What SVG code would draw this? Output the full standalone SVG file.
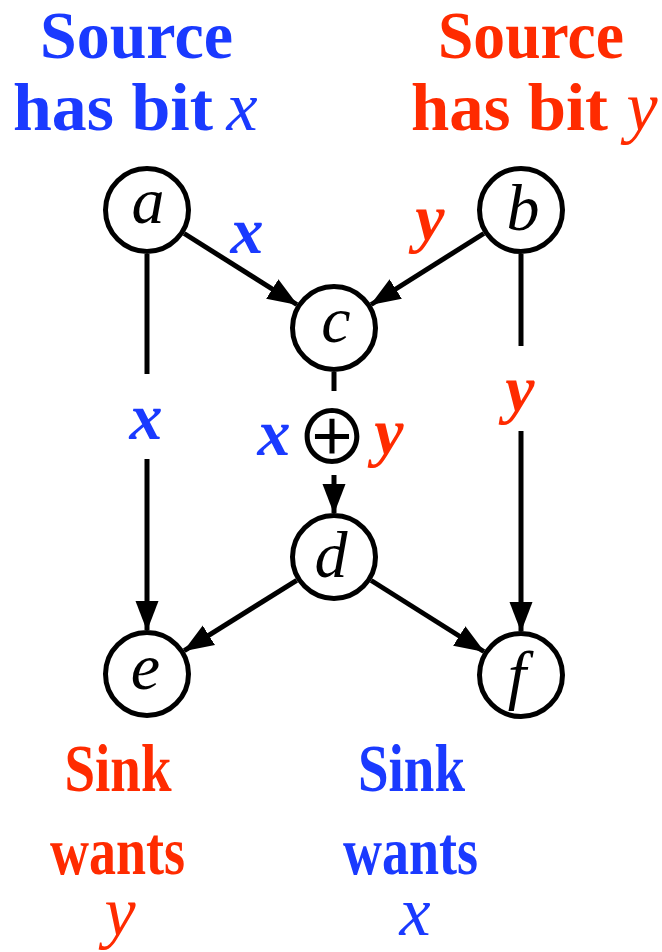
<svg xmlns="http://www.w3.org/2000/svg" width="662" height="952" viewBox="0 0 662 952">
<style>
.bg{fill:#ffffff}
.node{fill:#ffffff;stroke:#000000;stroke-width:5}
.edge{fill:none;stroke:#000000;stroke-width:5}
.nl{font-family:"Liberation Serif",serif;font-style:italic;font-size:66px;fill:#000000;text-anchor:middle}
.el{font-family:"Liberation Serif",serif;font-style:italic;font-weight:bold;font-size:66px;text-anchor:middle}
.big{font-family:"Liberation Serif",serif;font-weight:bold;font-size:68px;text-anchor:middle}
.var{font-family:"Liberation Serif",serif;font-style:italic;font-size:70px;text-anchor:middle}
.blue{fill:#1a3aff}
.red{fill:#ff2b00}
</style>
<defs>
<marker id="arr" markerUnits="userSpaceOnUse" markerWidth="32" markerHeight="26" viewBox="0 -13 32 26" refX="29" refY="0" orient="auto">
<path d="M0,-11.5 L30,0 L0,11.5 z" fill="#000000"/>
</marker>
</defs>
<rect class="bg" x="0" y="0" width="662" height="952"/>
<g id="labels-top">
<text class="big blue" x="136.5" y="58" textLength="193" lengthAdjust="spacingAndGlyphs">Source</text>
<text class="big blue" x="113" y="130" textLength="200" lengthAdjust="spacingAndGlyphs">has bit</text>
<text class="var blue" x="242" y="130">x</text>
<text class="big red" x="531" y="58" textLength="186" lengthAdjust="spacingAndGlyphs">Source</text>
<text class="big red" x="509.5" y="130" textLength="197" lengthAdjust="spacingAndGlyphs">has bit</text>
<text class="var red" x="642" y="130">y</text>
</g>
<g id="connectors">
<line class="edge" x1="184.2" y1="233.5" x2="296.8" y2="304.5" marker-end="url(#arr)"/>
<line class="edge" x1="483.8" y1="233.5" x2="371.2" y2="304.5" marker-end="url(#arr)"/>
<line class="edge" x1="147" y1="254" x2="147" y2="374"/>
<line class="edge" x1="147" y1="459" x2="147" y2="630" marker-end="url(#arr)"/>
<line class="edge" x1="521" y1="254" x2="521" y2="346"/>
<line class="edge" x1="521" y1="431" x2="521" y2="631" marker-end="url(#arr)"/>
<line class="edge" x1="334" y1="372" x2="334" y2="391"/>
<line class="edge" x1="334" y1="475" x2="334" y2="513" marker-end="url(#arr)"/>
<line class="edge" x1="296.7" y1="580.3" x2="184.3" y2="650.7" marker-end="url(#arr)"/>
<line class="edge" x1="371.2" y1="580.5" x2="483.8" y2="651.5" marker-end="url(#arr)"/>
<text class="el blue" x="274" y="455">x</text>
<text x="332" y="464" font-family="Noto Sans CJK SC, DejaVu Sans, sans-serif" font-size="74" text-anchor="middle" fill="#000000">⊕</text>
<text class="el red" x="389" y="454">y</text>
<text class="el blue" x="247" y="253">x</text>
<text class="el red" x="430" y="240">y</text>
<text class="el blue" x="146" y="439">x</text>
<text class="el red" x="520" y="411">y</text>
</g>
<g id="node-a"><circle class="node" cx="147" cy="210" r="41.5"/><text class="nl" x="148" y="223">a</text></g>
<g id="node-b"><circle class="node" cx="521" cy="210" r="41.5"/><text class="nl" x="523" y="230">b</text></g>
<g id="node-c"><circle class="node" cx="334" cy="328" r="41.5"/><text class="nl" x="336" y="342">c</text></g>
<g id="node-d"><circle class="node" cx="334" cy="557" r="41.5"/><text class="nl" x="331" y="577">d</text></g>
<g id="node-e"><circle class="node" cx="147" cy="674" r="41.5"/><text class="nl" x="145.5" y="689">e</text></g>
<g id="node-f"><circle class="node" cx="521" cy="675" r="41.5"/><text class="nl" x="517" y="697">f</text></g>
<g id="labels-bottom">
<text class="big red" x="118" y="791" textLength="107" lengthAdjust="spacingAndGlyphs">Sink</text>
<text class="big red" x="117.5" y="874" textLength="135" lengthAdjust="spacingAndGlyphs">wants</text>
<text class="var red" x="120" y="935">y</text>
<text class="big blue" x="411.5" y="791" textLength="107" lengthAdjust="spacingAndGlyphs">Sink</text>
<text class="big blue" x="410.5" y="874" textLength="135" lengthAdjust="spacingAndGlyphs">wants</text>
<text class="var blue" x="415" y="935">x</text>
</g>
</svg>
